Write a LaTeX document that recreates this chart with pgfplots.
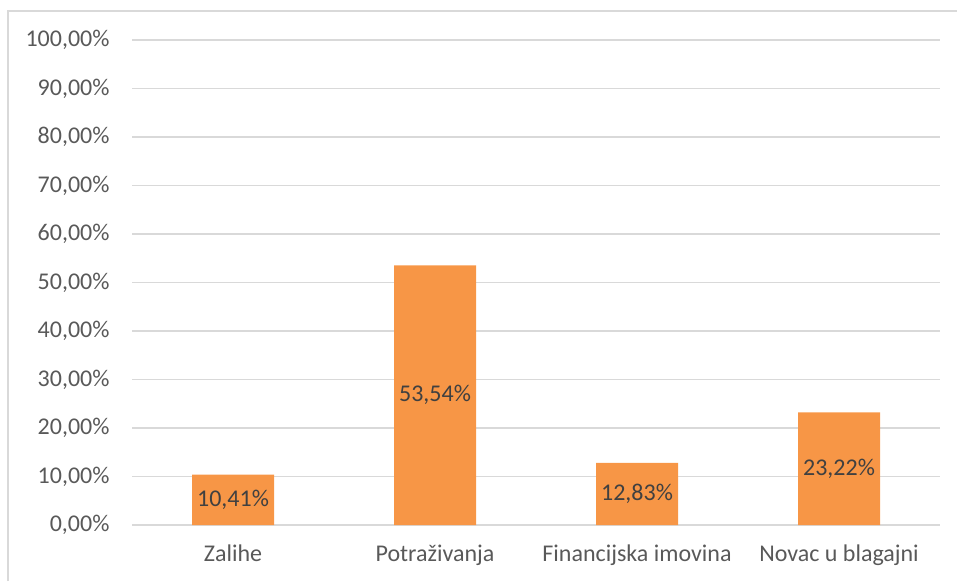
\documentclass[border=0pt]{standalone}
\usepackage{pgfplots}
\pgfplotsset{compat=1.18}
\usepackage{fontspec}
\setmainfont{Carlito}
\definecolor{barc}{HTML}{F79646}
\definecolor{gridc}{HTML}{D9D9D9}
\definecolor{txt}{HTML}{595959}
\definecolor{lbl}{HTML}{404040}
\begin{document}
\begin{tikzpicture}[x=1pt,y=1pt]
\useasboundingbox (0,0) rectangle (957,581);
\draw[gridc, line width=1.2pt] (8,0) -- (8,570) -- (957,570);
\begin{axis}[
  at={(132pt,56pt)}, anchor=south west,
  scale only axis, width=808pt, height=485pt,
  xmin=-0.5, xmax=3.5, ymin=0, ymax=100,
  axis line style={draw=none},
  ytick={0,10,...,100},
  yticklabel={\pgfmathprintnumber[fixed,fixed zerofill,precision=2,use comma,assume math mode=true]{\tick}\%},
  ymajorgrids, major grid style={gridc, line width=1.2pt},
  xtick={0,1,2,3},
  xticklabels={Zalihe,Potraživanja,Financijska imovina,Novac u blagajni},
  tick style={draw=none},
  ticklabel style={font=\fontsize{24}{28}\selectfont, text=txt},
  yticklabel style={xshift=-19pt},
  xticklabel style={yshift=-16pt},
]
\addplot[ybar, bar width=82pt, fill=barc, draw=none,
  visualization depends on={rawy \as \rawy},
  nodes near coords={\pgfmathprintnumber[fixed,fixed zerofill,precision=2,use comma,assume math mode=true]{\pgfplotspointmeta}\%},
  every node near coord/.append style={font=\fontsize{24}{28}\selectfont, text=lbl, anchor=center, yshift={-2.425*\rawy*1pt}},
  point meta=y,
] table[x=x,y=y] {
x y
0 10.41
1 53.54
2 12.83
3 23.22
};
\end{axis}
\end{tikzpicture}
\end{document}
